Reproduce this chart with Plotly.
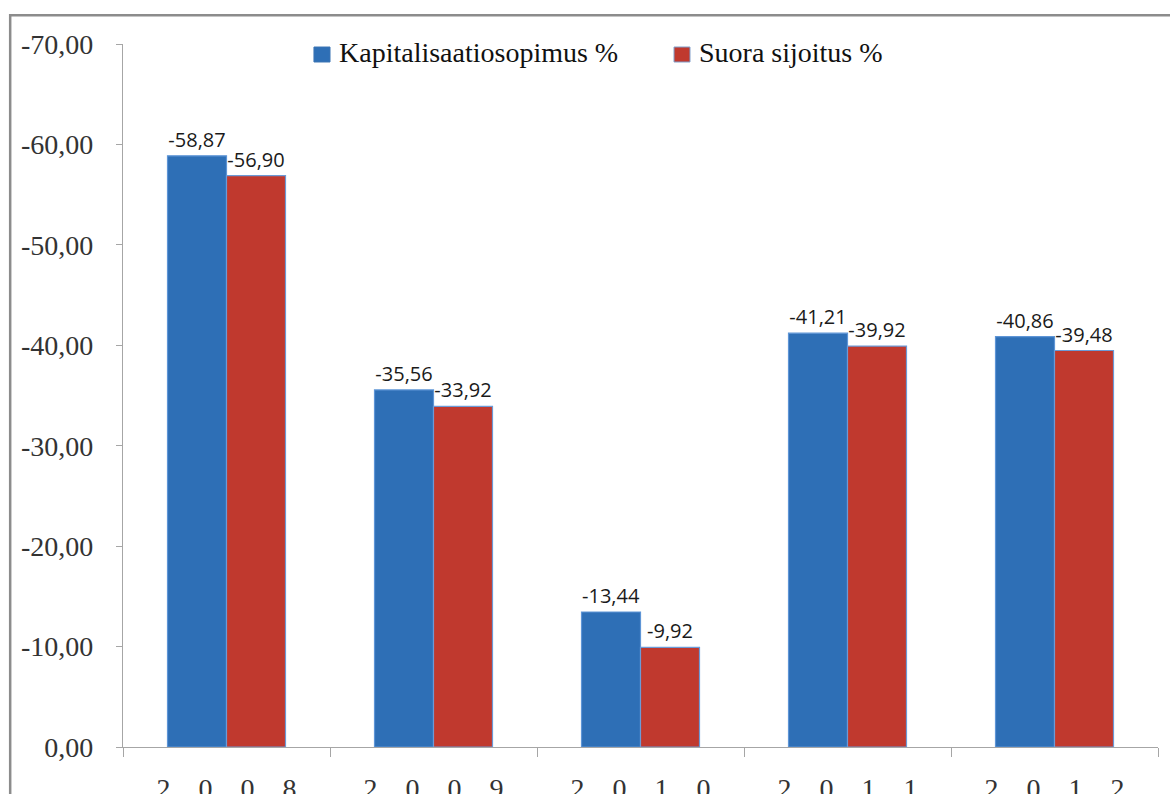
import plotly.graph_objects as go

years = ["2008", "2009", "2010", "2011", "2012"]
kapitalisaatio = [-58.87, -35.56, -13.44, -41.21, -40.86]
suora = [-56.90, -33.92, -9.92, -39.92, -39.48]
series_names = ["Kapitalisaatiosopimus %", "Suora sijoitus %"]
ytick_vals = [0, -10, -20, -30, -40, -50, -60, -70]

def fmt(v):
    return f"{v:.2f}".replace(".", ",")

sp = "\u00a0" * 4
year_labels = [sp.join(list(y)) for y in years]

SERIF = "Liberation Serif, Times New Roman, serif"
label_font = dict(family="Open Sans, Liberation Sans, sans-serif", size=20, color="#1a1a1a")
colors = ["#2e6fb6", "#c0392e"]
edges = ["#5e95d6", "#6c9ad6"]

fig = go.Figure()
for name, vals, c, e in zip(series_names, [kapitalisaatio, suora], colors, edges):
    fig.add_trace(go.Bar(
        x=years, y=vals, name=name,
        marker=dict(color=c, line=dict(color=e, width=1.2)),
        text=[fmt(v) for v in vals], textposition="outside",
        outsidetextfont=label_font, cliponaxis=False,
    ))

fig.update_layout(
    width=1170, height=794,
    margin=dict(l=123, r=12, t=44, b=47),
    paper_bgcolor="white", plot_bgcolor="white",
    barmode="group", bargap=0.43, bargroupgap=0,
    font=dict(family=SERIF, color="#222"),
    showlegend=False,
)
fig.update_yaxes(
    range=[0, -70], tickvals=ytick_vals, ticktext=[fmt(v) for v in ytick_vals],
    showgrid=False, zeroline=False, showline=True, linecolor="#a6a6a6", linewidth=1.3,
    ticks="outside", ticklen=6, tickcolor="#a6a6a6", ticklabelstandoff=17,
    tickfont=dict(family=SERIF, size=28, color="#333"),
    automargin=False,
)
fig.update_xaxes(
    tickvals=years, ticktext=year_labels, tickson="boundaries",
    showgrid=False, showline=True, linecolor="#a6a6a6", linewidth=1.3,
    ticks="outside", ticklen=9, tickcolor="#a6a6a6", ticklabelstandoff=16,
    tickfont=dict(family=SERIF, size=28, color="#333"),
    automargin=False,
)
# outer chart frame
fig.add_shape(type="rect", xref="paper", yref="paper",
              x0=-0.109, x1=1.2, y0=-0.3, y1=1.041,
              line=dict(color="#8c8c8c", width=2.5), fillcolor="rgba(0,0,0,0)", layer="below")

# legend drawn manually (serif text, square keys)
legend_items = [
    (series_names[0], colors[0], "#3b74b4", 0.1845, 0.2000, 0.2068),
    (series_names[1], colors[1], "#7d9cc8", 0.5324, 0.5478, 0.5546),
]
for name, c, e, kx0, kx1, tx in legend_items:
    fig.add_shape(type="rect", xref="paper", yref="paper",
                  x0=kx0, x1=kx1, y0=0.9744, y1=0.9957,
                  line=dict(color=e, width=1), fillcolor=c)
    fig.add_annotation(xref="paper", yref="paper", x=tx, y=0.9886,
                       xanchor="left", yanchor="middle", showarrow=False,
                       text=name, font=dict(family=SERIF, size=28, color="#111"))

fig.write_html("out.html")
